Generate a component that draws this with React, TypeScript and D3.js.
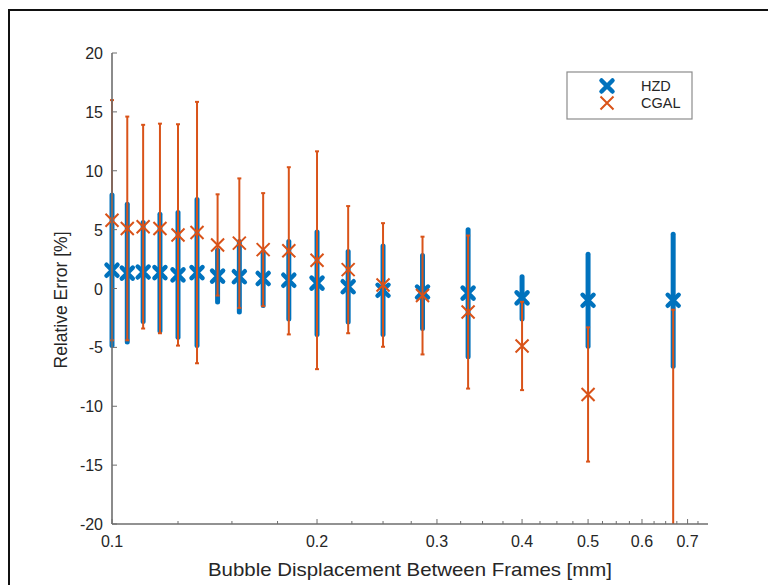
import React from "react";
import * as d3 from "d3";

const displacement = [0.1, 0.1053, 0.1111, 0.1176, 0.125, 0.1333, 0.1429, 0.1538, 0.1667, 0.1818, 0.2, 0.2222, 0.25, 0.2857, 0.3333, 0.4, 0.5, 0.6667];
const hzdMean = [1.55, 1.3, 1.4, 1.35, 1.15, 1.35, 1.05, 1.0, 0.85, 0.7, 0.45, 0.15, -0.15, -0.3, -0.4, -0.8, -1.0, -1.0];
const hzdErr = [6.4, 5.85, 4.2, 4.95, 5.3, 6.2, 2.2, 3.0, 2.3, 3.3, 4.35, 3.0, 3.75, 3.1, 5.4, 1.8, 3.9, 5.6];
const cgalMean = [5.8, 5.1, 5.25, 5.1, 4.55, 4.75, 3.7, 3.85, 3.3, 3.2, 2.4, 1.6, 0.3, -0.6, -2.0, -4.88, -9.0, -26];
const cgalErr = [10.2, 9.5, 8.65, 8.9, 9.4, 11.1, 4.3, 5.5, 4.8, 7.1, 9.25, 5.4, 5.25, 5.0, 6.5, 3.75, 5.7, 24.2];

const xMajorTicks = [0.1, 0.2, 0.3, 0.4, 0.5, 0.6, 0.7];
const xMinorTicks = [0.125, 0.15, 0.175, 0.225, 0.25, 0.275, 0.325, 0.35, 0.375, 0.425, 0.45, 0.475, 0.525, 0.55, 0.575, 0.625, 0.65, 0.675, 0.725];
const yTicks = [-20, -15, -10, -5, 0, 5, 10, 15, 20];
const seriesNames = ["HZD", "CGAL"];
const xLabel = "Bubble Displacement Between Frames [mm]";
const yLabel = "Relative Error [%]";

const BLUE = "#0072BD";
const ORANGE = "#D95319";
const FONT = "'Liberation Sans', Arial, Helvetica, sans-serif";

function xPath(s: number) {
  return `M${-s},${-s}L${s},${s}M${-s},${s}L${s},${-s}`;
}

export default function App() {
  const W = 768, H = 585;
  const left = 112, right = 708, top = 53, bottom = 524;
  const x = d3.scaleLog().domain([0.1, 0.75]).range([left, right]);
  const y = d3.scaleLinear().domain([-20, 20]).range([bottom, top]);
  const inY = (v: number) => v >= -20 && v <= 20;
  const axisColor = "#6e6e6e";
  const textColor = "#262626";

  return (
    <svg width={W} height={H} style={{ position: "absolute", left: 0, top: 0, background: "#fff" }} fontFamily={FONT}>
      <defs>
        <clipPath id="plotclip">
          <rect x={left - 4} y={top} width={right - left + 4} height={bottom - top} />
        </clipPath>
      </defs>
      {/* figure frame */}
      <rect x={9} y={10} width={820} height={640} fill="none" stroke="#111" strokeWidth={2} />

      {/* HZD error bars */}
      <g clipPath="url(#plotclip)">
        {displacement.map((d, i) => (
          <line key={"hb" + i} x1={x(d)} x2={x(d)} y1={y(hzdMean[i] + hzdErr[i])} y2={y(hzdMean[i] - hzdErr[i])}
            stroke={BLUE} strokeWidth={5} strokeLinecap="round" />
        ))}
      </g>
      {displacement.map((d, i) => inY(hzdMean[i]) ? (
        <path key={"hm" + i} d={xPath(5.5)} transform={`translate(${x(d)},${y(hzdMean[i])})`}
          stroke={BLUE} strokeWidth={4.5} fill="none" strokeLinecap="round" />
      ) : null)}

      {/* CGAL error bars */}
      <g clipPath="url(#plotclip)">
        {displacement.map((d, i) => {
          const cx = x(d);
          const yu = y(cgalMean[i] + cgalErr[i]);
          const yl = y(cgalMean[i] - cgalErr[i]);
          return (
            <g key={"cb" + i}>
              <line x1={cx} x2={cx} y1={yu} y2={yl} stroke={ORANGE} strokeWidth={2} />
              <line x1={cx - 2} x2={cx + 2} y1={yu} y2={yu} stroke={ORANGE} strokeWidth={2} />
              <line x1={cx - 2} x2={cx + 2} y1={yl} y2={yl} stroke={ORANGE} strokeWidth={2} />
            </g>
          );
        })}
      </g>
      {displacement.map((d, i) => inY(cgalMean[i]) ? (
        <path key={"cm" + i} d={xPath(6.5)} transform={`translate(${x(d)},${y(cgalMean[i])})`}
          stroke={ORANGE} strokeWidth={2} fill="none" />
      ) : null)}

      {/* axes */}
      <line x1={left} x2={right} y1={bottom} y2={bottom} stroke={axisColor} strokeWidth={1.6} />
      <line x1={left} x2={left} y1={top} y2={bottom} stroke={axisColor} strokeWidth={1.6} />
      {xMajorTicks.map((t) => (
        <g key={"xt" + t}>
          <line x1={x(t)} x2={x(t)} y1={bottom} y2={bottom - 5} stroke={axisColor} strokeWidth={1} />
          <text x={x(t)} y={bottom + 23} textAnchor="middle" fontSize={16} fill={textColor}>{String(t)}</text>
        </g>
      ))}
      {xMinorTicks.map((t) => (
        <line key={"xm" + t} x1={x(t)} x2={x(t)} y1={bottom} y2={bottom - 3} stroke={axisColor} strokeWidth={1} />
      ))}
      {yTicks.map((t) => (
        <g key={"yt" + t}>
          <line x1={left} x2={left + 5} y1={y(t)} y2={y(t)} stroke={axisColor} strokeWidth={1} />
          <text x={left - 9} y={y(t) + 6} textAnchor="end" fontSize={16} fill={textColor}>{String(t)}</text>
        </g>
      ))}
      <text x={(left + right) / 2} y={576} textAnchor="middle" fontSize={18.5} fill={textColor}
        textLength={404} lengthAdjust="spacingAndGlyphs">{xLabel}</text>
      <text transform={`translate(67,${300}) rotate(-90)`} textAnchor="middle" fontSize={18.5} fill={textColor}
        textLength={137} lengthAdjust="spacingAndGlyphs">{yLabel}</text>

      {/* legend */}
      <rect x={567} y={72} width={125} height={47} fill="#fff" stroke="#8c8c8c" strokeWidth={1.2} />
      <path d={xPath(5.5)} transform="translate(607,86)" stroke={BLUE} strokeWidth={4.5} fill="none" strokeLinecap="round" />
      <path d={xPath(6.5)} transform="translate(607,103)" stroke={ORANGE} strokeWidth={2} fill="none" />
      <text x={641} y={91} fontSize={14.5} fill={textColor}>{seriesNames[0]}</text>
      <text x={641} y={108} fontSize={14.5} fill={textColor}>{seriesNames[1]}</text>
    </svg>
  );
}
